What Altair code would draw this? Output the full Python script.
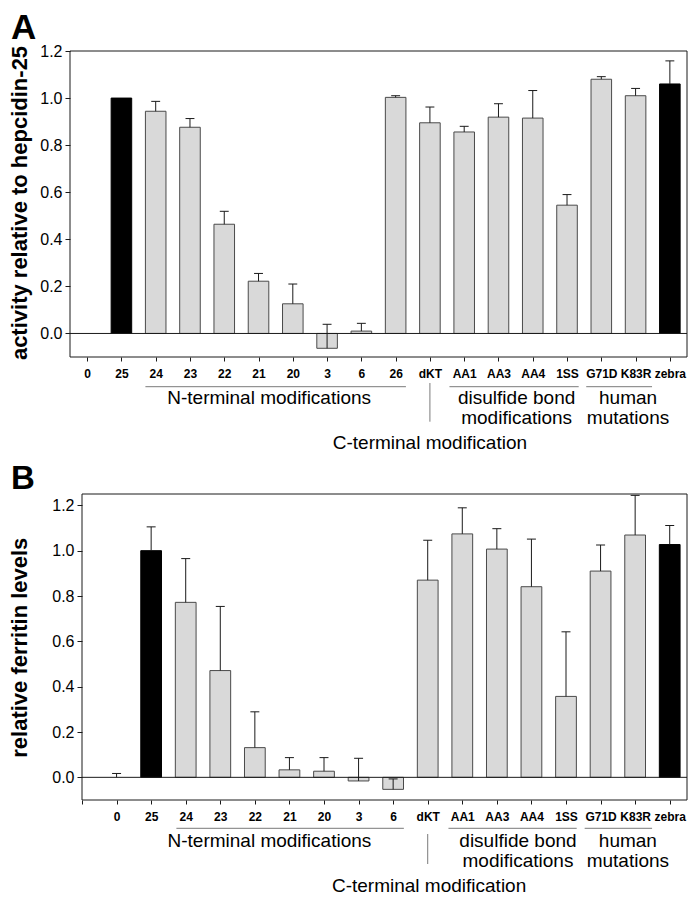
import altair as alt
import pandas as pd

FONT = "Liberation Sans"
INK = "#1a1a1a"
BAR_GRAY = "#d9d9d9"
BAR_EDGE = "#4a4a4a"
GROUP_LINE = "#7a7a7a"

# ---------------- Panel A: activity relative to hepcidin-25 ----------------
labels_a = ["0", "25", "24", "23", "22", "21", "20", "3", "6", "26",
            "dKT", "AA1", "AA3", "AA4", "1SS", "G71D", "K83R", "zebra"]
activity_a = [0.0, 1.0, 0.944, 0.876, 0.464, 0.222, 0.126, -0.063, 0.010, 1.003,
              0.895, 0.856, 0.919, 0.915, 0.545, 1.080, 1.010, 1.060]
error_a = [0.0, 0.0, 0.042, 0.037, 0.055, 0.033, 0.084, 0.102, 0.033, 0.007,
           0.067, 0.024, 0.057, 0.117, 0.045, 0.011, 0.031, 0.098]

# ---------------- Panel B: relative ferritin levels ----------------
labels_b = ["0", "25", "24", "23", "22", "21", "20", "3", "6",
            "dKT", "AA1", "AA3", "AA4", "1SS", "G71D", "K83R", "zebra"]
ferritin_b = [0.0, 1.0, 0.772, 0.471, 0.131, 0.033, 0.027, -0.016, -0.053,
              0.870, 1.074, 1.007, 0.841, 0.357, 0.910, 1.069, 1.027]
error_b = [0.017, 0.105, 0.193, 0.283, 0.158, 0.054, 0.060, 0.100, 0.046,
           0.176, 0.115, 0.090, 0.210, 0.285, 0.115, 0.175, 0.084]

reference_bars = ["25", "zebra"]
y_ticks = [0.0, 0.2, 0.4, 0.6, 0.8, 1.0, 1.2]

# group annotations: (text, centre on category axis, row offset below plot)
group_text_a = [("N-terminal modifications", 5.31, 41), ("disulfide bond", 12.53, 41),
                ("modifications", 12.53, 61), ("human", 15.78, 41),
                ("mutations", 15.78, 61), ("C-terminal modification", 10.0, 86)]
group_lines_a = [(1.70, 9.30), (10.57, 14.34), (14.56, 16.48)]
divider_a = 10.0

group_text_b = [("N-terminal modifications", 4.42, 41), ("disulfide bond", 11.61, 41),
                ("modifications", 11.61, 61), ("human", 14.79, 41),
                ("mutations", 14.79, 61), ("C-terminal modification", 9.04, 86)]
group_lines_b = [(1.73, 8.31), (9.60, 13.31), (13.54, 15.49)]
divider_b = 9.0

W = 617
H = 306


def panel(labels, values, errors, x_domain, tick_positions, y_domain, y_title,
          x0, letter, letter_y, letter_size, title_x, title_y,
          group_text, group_lines, divider, line_y, div_y1, div_y2):
    df = pd.DataFrame({"label": labels, "value": values, "err": errors,
                       "pos": list(range(len(labels)))})
    df["kind"] = ["ref" if l in reference_bars else "mod" for l in labels]
    df["top"] = df["value"] + df["err"]

    arr = "[" + ",".join("'" + l + "'" for l in labels) + "]"
    label_expr = "datum.value < 0 ? '' : " + arr + "[datum.value]"

    xs = alt.Scale(domain=x_domain, range=[x0, W], nice=False, zero=False)
    ys = alt.Scale(domain=y_domain, nice=False, zero=False)

    x_axis = alt.Axis(values=tick_positions, labelExpr=label_expr, labelFontSize=12,
                      labelFontWeight="bold", tickSize=4, labelPadding=7, labelAngle=0,
                      labelFlush=False, labelOverlap=False, title=None)
    y_axis = alt.Axis(values=y_ticks, format=".1f", labelFontSize=16, tickSize=5,
                      labelPadding=3, labelFlush=False, labelOverlap=False, offset=-x0,
                      title=y_title, titleFontSize=22, titleFontWeight="bold",
                      titleAngle=270, titleX=title_x, titleY=title_y,
                      titleAlign="center", titleBaseline="alphabetic", titleColor="black")

    base = alt.Chart(df)
    bars = base.transform_filter("datum.value != 0").transform_calculate(
        b1="datum.pos - 0.3", b2="datum.pos + 0.3"
    ).mark_rect(strokeWidth=1).encode(
        x=alt.X("b1:Q", scale=xs, axis=x_axis),
        x2="b2:Q",
        y=alt.Y("value:Q", scale=ys, axis=y_axis),
        y2=alt.datum(0),
        fill=alt.Fill("kind:N", scale=alt.Scale(domain=["ref", "mod"], range=["#000000", BAR_GRAY]), legend=None),
        stroke=alt.Stroke("kind:N", scale=alt.Scale(domain=["ref", "mod"], range=["#000000", BAR_EDGE]), legend=None),
    )
    err_line = base.transform_filter("datum.err > 0").mark_rule(color=INK, strokeWidth=1).encode(
        x=alt.X("pos:Q", scale=xs, axis=x_axis), y=alt.Y("value:Q", scale=ys, axis=y_axis), y2="top:Q")
    err_cap = base.transform_filter("datum.err > 0").transform_calculate(
        c1="datum.pos - 0.13", c2="datum.pos + 0.13"
    ).mark_rule(color=INK, strokeWidth=1).encode(
        x=alt.X("c1:Q", scale=xs, axis=x_axis), x2="c2:Q", y=alt.Y("top:Q", scale=ys, axis=y_axis))
    zero = alt.Chart(pd.DataFrame({"z": [0.0]})).mark_rule(color=INK, strokeWidth=1).encode(
        y=alt.Y("z:Q", scale=ys, axis=y_axis), x=alt.value(x0), x2=alt.value(W))
    frame = alt.Chart(pd.DataFrame({"f": [0]})).mark_rect(
        fillOpacity=0, stroke=INK, strokeWidth=1
    ).encode(x=alt.value(x0), x2=alt.value(W), y=alt.value(0), y2=alt.value(H))

    gl = pd.DataFrame({"s": [g[0] for g in group_lines], "e": [g[1] for g in group_lines]})
    glines = alt.Chart(gl).mark_rule(color=GROUP_LINE, strokeWidth=1).encode(
        x=alt.X("s:Q", scale=xs, axis=x_axis), x2="e:Q", y=alt.value(H + line_y))
    div = alt.Chart(pd.DataFrame({"d": [divider]})).mark_rule(color=GROUP_LINE, strokeWidth=1).encode(
        x=alt.X("d:Q", scale=xs, axis=x_axis), y=alt.value(H + div_y1), y2=alt.value(H + div_y2))

    layers = [bars, zero, err_line, err_cap, frame, glines, div]
    gt = pd.DataFrame({"text": [g[0] for g in group_text], "cx": [g[1] for g in group_text],
                       "row": [g[2] for g in group_text]})
    for row in sorted(set(gt["row"])):
        layers.append(
            alt.Chart(gt[gt["row"] == row]).mark_text(
                font=FONT, fontSize=19, color="black", align="center", baseline="middle"
            ).encode(x=alt.X("cx:Q", scale=xs, axis=x_axis), y=alt.value(H + row), text="text:N"))

    letter_layer = alt.Chart(pd.DataFrame({"t": [letter]})).mark_text(
        font=FONT, fontSize=letter_size, fontWeight="bold", color="black",
        align="left", baseline="top"
    ).encode(x=alt.value(-59), y=alt.value(letter_y), text="t:N")
    layers.append(letter_layer)

    return alt.layer(*layers).properties(width=W, height=H)


chart_a = panel(labels_a, activity_a, error_a, [-0.5, 17.5], list(range(18)), [-0.1, 1.2],
                "activity relative to hepcidin-25", 0, "A", -39.9, 35,
                -43.7, 151.5, group_text_a, group_lines_a, divider_a, 29.7, 26, 64.7)
chart_b = panel(labels_b, ferritin_b, error_b, [-1, 16.5], list(range(-1, 17)), [-0.1, 1.25],
                "relative ferritin levels", 12, "B", -30.8, 33,
                -55.7, 153.2, group_text_b, group_lines_b, divider_b, 28.3, 34, 64)

chart = alt.vconcat(chart_a, chart_b, spacing=10).properties(
    padding={"top": 3, "left": 0, "right": 0, "bottom": 0}
).configure_view(
    stroke=None
).configure_axis(
    labelFont=FONT, titleFont=FONT, domain=False, grid=False, tickColor=INK,
    labelColor="black"
)

chart.save("out.html", embed_options={"renderer": "svg", "actions": False})
